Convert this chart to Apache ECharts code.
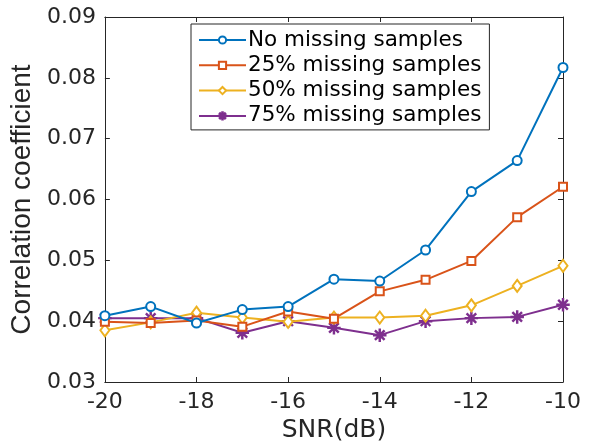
<!DOCTYPE html>
<html><head><meta charset="utf-8">
<script src="https://cdn.jsdelivr.net/npm/echarts@6/dist/echarts.min.js"></script>
<style>html,body{margin:0;padding:0;background:#fff}#c{width:597px;height:448px}</style>
</head><body><div id="c"></div>
<script>
var snr = [-20,-19,-18,-17,-16,-15,-14,-13,-12,-11,-10];
var noMissing = [0.0409,0.0424,0.0397,0.0419,0.0424,0.0469,0.0466,0.0517,0.0613,0.0664,0.0817];
var missing25 = [0.0399,0.0397,0.0401,0.0391,0.0416,0.0404,0.0449,0.0468,0.0499,0.0571,0.0621];
var missing50 = [0.0385,0.0398,0.0414,0.0406,0.0399,0.0406,0.0406,0.0409,0.0426,0.0458,0.0491];
var missing75 = [0.0405,0.0405,0.0405,0.0381,0.0400,0.0389,0.0377,0.0400,0.0405,0.0407,0.0427];
var seriesNames = ['No missing samples','25% missing samples','50% missing samples','75% missing samples'];
var xTicks = [-20,-18,-16,-14,-12,-10];
var yTicks = [0.03,0.04,0.05,0.06,0.07,0.08,0.09];

var colors = ['#0072BD','#D95319','#EDB120','#7E2F8E'];
var star = 'path://M9.2,0 L10.8,0 L10.8,20 L9.2,20 Z M0,9.2 L20,9.2 L20,10.8 L0,10.8 Z M2.3,3.4 L3.4,2.3 L17.7,16.6 L16.6,17.7 Z M16.6,2.3 L17.7,3.4 L3.4,17.7 L2.3,16.6 Z';
var symbols = ['emptyCircle','emptyRect','emptyDiamond',star];
var symSizes = [9,8,[9,12],12];
var all = [noMissing, missing25, missing50, missing75];
function pairs(v){ return snr.map(function(x,i){return [x, v[i]];}); }

var ax = '#262626';
var wide = 'DejaVu Sans, sans-serif';
var narrow = 'Liberation Sans, Arial, sans-serif';
var chart = echarts.init(document.getElementById('c'));
chart.setOption({
  animation:false,
  backgroundColor:'#fff',
  grid:{left:104,right:34,top:17,bottom:64},
  legend:{
    orient:'vertical', left:191, top:24,
    data:seriesNames,
    backgroundColor:'#fff', borderColor:ax, borderWidth:1,
    padding:[5,8,3,7], itemGap:3.3, itemWidth:47, itemHeight:9,
    textStyle:{fontFamily:wide, fontSize:21.5, lineHeight:22, color:'#000', padding:[0,0,0,-3]}
  },
  xAxis:[{
    type:'value', min:-20, max:-10, interval:2, position:'bottom',
    name:'SNR(dB)', nameLocation:'middle', nameGap:36,
    nameTextStyle:{fontFamily:wide, fontSize:25, color:ax},
    axisLine:{lineStyle:{color:ax,width:1}},
    axisTick:{inside:true,length:5,lineStyle:{color:ax}},
    axisLabel:{fontFamily:wide, fontSize:22, color:ax, margin:9},
    splitLine:{show:false}
  },{
    type:'value', min:-20, max:-10, interval:2, position:'top',
    axisLine:{lineStyle:{color:ax,width:1}},
    axisTick:{inside:true,length:5,lineStyle:{color:ax}},
    axisLabel:{show:false}, splitLine:{show:false}
  }],
  yAxis:[{
    type:'value', min:0.03, max:0.09, interval:0.01, position:'left',
    name:'Correlation coefficient', nameLocation:'middle', nameGap:67,
    nameTextStyle:{fontFamily:narrow, fontSize:28, color:ax},
    axisLine:{show:true,lineStyle:{color:ax,width:1}},
    axisTick:{show:true,inside:true,length:5,lineStyle:{color:ax}},
    axisLabel:{fontFamily:wide, fontSize:22, color:ax, margin:9,
      formatter:function(v){return v.toFixed(2);}},
    splitLine:{show:false}
  },{
    type:'value', min:0.03, max:0.09, interval:0.01, position:'right',
    axisLine:{show:true,lineStyle:{color:ax,width:1}},
    axisTick:{show:true,inside:true,length:5,lineStyle:{color:ax}},
    axisLabel:{show:false}, splitLine:{show:false}
  }],
  series: all.map(function(v,i){
    return {
      name:seriesNames[i], type:'line', data:pairs(v),
      symbol:symbols[i], symbolSize:symSizes[i], showAllSymbol:true,
      lineStyle:{color:colors[i], width:2},
      itemStyle:{color:colors[i], borderColor:colors[i], borderWidth:1.5},
      z: 10-i
    };
  })
});
</script></body></html>
